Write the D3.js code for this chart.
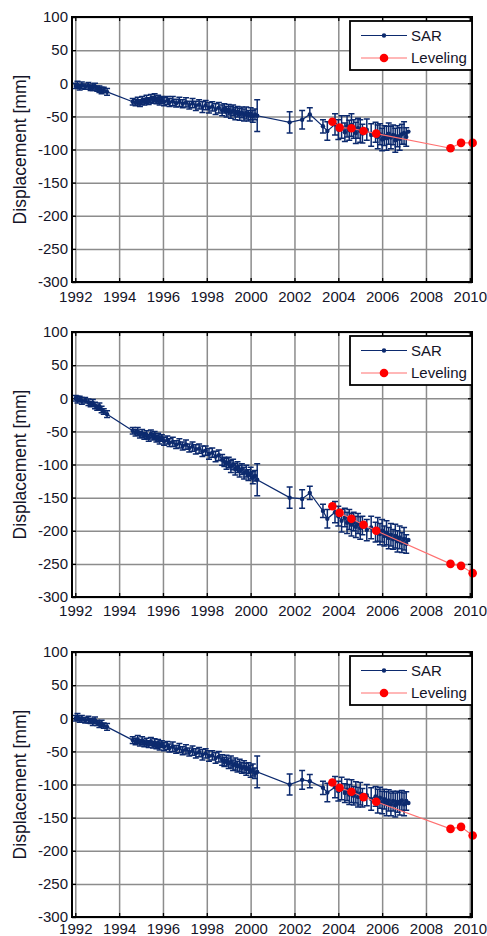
<!DOCTYPE html>
<html><head><meta charset="utf-8">
<script src="https://cdn.jsdelivr.net/npm/d3@7"></script>
<style>
html,body{margin:0;padding:0;background:#fff;}
text{font-family:"Liberation Sans",Arial,Helvetica,sans-serif;}
</style></head>
<body><svg id="chart" width="487" height="936"></svg>
<script>
// ---------- DATA ----------
const xTicks = [1992,1994,1996,1998,2000,2002,2004,2006,2008,2010];
const yTicks = [100,50,0,-50,-100,-150,-200,-250,-300];
const seriesNames = ["SAR","Leveling"];
const yLabel = "Displacement [mm]";

// SAR acquisition dates (decimal years)
const sarDates = [
 1992.02,1992.1,1992.2,1992.3,1992.45,1992.6,1992.7,1992.8,1992.9,1993.0,1993.1,1993.2,1993.3,1993.45,
 1994.62,1994.75,1994.85,1994.95,1995.05,1995.15,1995.25,1995.35,1995.45,1995.55,1995.62,1995.7,1995.78,1995.85,1995.95,
 1996.05,1996.2,1996.3,1996.45,1996.6,1996.75,1996.9,1997.05,1997.2,1997.35,1997.5,1997.65,1997.8,1997.95,
 1998.1,1998.25,1998.4,1998.55,1998.7,1998.8,1998.9,1999.0,1999.1,1999.2,1999.3,1999.4,1999.5,1999.6,1999.7,1999.8,1999.9,
 2000.0,2000.1,2000.2,2000.3,
 2001.78,2002.35,2002.7,2003.3,2003.5,
 2003.85,2004.0,2004.15,2004.3,2004.4,2004.5,2004.6,2004.7,2004.8,2004.9,2005.0,2005.1,2005.3,2005.5,2005.7,2005.8,2005.9,
 2006.0,2006.1,2006.2,2006.3,2006.4,2006.5,2006.6,2006.7,2006.8,2006.9,2007.0,2007.1,2007.2
];
// SAR error (half-length of bar, mm)
const sarErr = [
 4,5,4,5,4,5,4,5,5,4,5,5,4,5,
 5,5,6,5,6,5,6,5,6,5,6,5,6,6,5,
 6,6,6,7,6,7,6,7,6,7,7,7,8,7,
 8,7,8,8,8,7,8,8,9,8,9,8,9,8,9,9,
 8,9,9,8,
 24,16,14,10,10,
 14,16,15,17,14,16,15,17,14,16,15,17,14,16,17,15,18,
 16,17,15,18,16,17,15,18,16,17,15,17,14
];
// SAR displacement, panel 1
const sar1 = [
 -4,-2,-6,-3,-5,-4,-7,-6,-5,-8,-9,-11,-10,-13,
 -28,-29,-27,-30,-26,-28,-24,-27,-23,-25,-22,-26,-24,-27,-25,
 -28,-26,-29,-27,-30,-28,-31,-29,-33,-30,-34,-32,-36,-33,
 -37,-35,-39,-37,-41,-38,-43,-40,-44,-41,-46,-43,-47,-44,-48,-45,-49,
 -46,-50,-47,-49,
 -59,-55,-47,-65,-72,
 -62,-70,-66,-74,-65,-71,-63,-69,-75,-68,-72,-76,-70,-78,-74,-81,-77,
 -85,-79,-83,-76,-82,-78,-86,-80,-84,-77,-75,-81,-73
];
// SAR displacement, panel 2
const sar2 = [
 0,-2,-1,-4,-3,-6,-9,-7,-11,-14,-12,-17,-20,-24,
 -49,-52,-50,-55,-53,-57,-55,-60,-54,-58,-56,-61,-59,-63,-60,
 -65,-63,-67,-66,-70,-68,-72,-70,-75,-73,-77,-76,-80,-79,
 -84,-82,-88,-86,-93,-96,-99,-97,-103,-100,-107,-104,-110,-107,-113,-110,-116,
 -113,-120,-117,-123,
 -150,-152,-143,-170,-182,
 -172,-178,-185,-180,-188,-183,-191,-186,-194,-189,-196,-192,-199,-195,-202,-198,-205,
 -200,-208,-203,-211,-206,-213,-208,-216,-210,-218,-212,-220,-214
];
// SAR displacement, panel 3
const sar3 = [
 0,2,-2,-1,-3,-2,-4,-6,-3,-7,-9,-8,-11,-13,
 -33,-35,-32,-37,-34,-38,-36,-39,-35,-40,-37,-41,-38,-42,-39,
 -43,-41,-45,-43,-47,-45,-49,-47,-51,-49,-53,-51,-55,-53,
 -57,-56,-60,-58,-63,-66,-64,-68,-66,-71,-69,-73,-71,-75,-73,-77,-75,
 -80,-78,-83,-81,
 -100,-93,-95,-105,-112,
 -104,-110,-106,-113,-108,-115,-110,-117,-112,-119,-114,-120,-116,-122,-118,-125,-120,
 -127,-122,-129,-124,-130,-125,-131,-126,-129,-124,-130,-125,-128
];
// Leveling
const levDates = [2003.73,2004.06,2004.6,2005.15,2005.73,2009.12,2009.6,2010.13];
const lev1 = [-58,-67,-68,-72,-76,-98,-90,-90];
const lev2 = [-163,-173,-182,-191,-200,-250,-253,-264];
const lev3 = [-97,-105,-111,-119,-126,-167,-164,-177];

// ---------- DRAW ----------
const svg = d3.select("#chart");
const SAR_COLOR = "#0c2a6e", LEV_COLOR = "#ff0000", LEV_LINE = "#ff7070";
const TXT = "#141428";
const left = 72, right = 472, ph = 265;
const tops = [17, 332, 652];
const labOff = [14.5, 14, 11.5];
const panels = [[sar1, lev1],[sar2, lev2],[sar3, lev3]];
const fmt = d => String(d);

const x = d3.scaleLinear().domain([1991.85, 2010.1]).range([left, right]);

panels.forEach(([sar, lev], i) => {
  const top = tops[i];
  const y = d3.scaleLinear().domain([-300, 100]).range([top + ph, top]);
  const g = svg.append("g");

  // grid
  g.append("g").attr("transform", `translate(0,${top+ph})`)
    .call(d3.axisBottom(x).tickValues(xTicks).tickSize(-ph).tickFormat(""))
    .call(a => { a.select(".domain").remove(); a.selectAll("line").attr("stroke","#8c8c8c").attr("stroke-width",1.5); });
  g.append("g").attr("transform", `translate(${left},0)`)
    .call(d3.axisLeft(y).tickValues(yTicks).tickSize(-(right-left)).tickFormat(""))
    .call(a => { a.select(".domain").remove(); a.selectAll("line").attr("stroke","#8c8c8c").attr("stroke-width",1.5); });

  // inward ticks on all sides
  const tk = 4;
  const tickStyle = a => { a.select(".domain").remove(); a.selectAll("line").attr("stroke","#000").attr("stroke-width",1.3); };
  g.append("g").attr("transform", `translate(0,${top+ph})`)
    .call(d3.axisBottom(x).tickValues(xTicks).tickSize(-tk).tickFormat("")).call(tickStyle);
  g.append("g").attr("transform", `translate(0,${top})`)
    .call(d3.axisTop(x).tickValues(xTicks).tickSize(-tk).tickFormat("")).call(tickStyle);
  g.append("g").attr("transform", `translate(${left},0)`)
    .call(d3.axisLeft(y).tickValues(yTicks).tickSize(-tk).tickFormat("")).call(tickStyle);
  g.append("g").attr("transform", `translate(${right},0)`)
    .call(d3.axisRight(y).tickValues(yTicks).tickSize(-tk).tickFormat("")).call(tickStyle);

  // x tick labels
  g.append("g").attr("transform", `translate(0,${top+ph})`)
    .call(d3.axisBottom(x).tickValues(xTicks).tickSize(0).tickPadding(0).tickFormat(fmt))
    .call(a => { a.select(".domain").remove(); a.selectAll("text").attr("font-size",15).attr("fill",TXT)
      .attr("font-family","Liberation Sans, Arial, sans-serif")
      .attr("y", labOff[i]).attr("dy","0.35em"); });
  // y tick labels
  g.append("g").attr("transform", `translate(${left-4},0)`)
    .call(d3.axisLeft(y).tickValues(yTicks).tickSize(0).tickPadding(0).tickFormat(fmt))
    .call(a => { a.select(".domain").remove(); a.selectAll("text").attr("font-size",15).attr("fill",TXT)
      .attr("font-family","Liberation Sans, Arial, sans-serif"); });

  // y label
  g.append("text")
    .attr("transform", `translate(20,${top+ph/2}) rotate(-90)`)
    .attr("text-anchor","middle").attr("dy","0.35em").attr("font-size",17.5).attr("fill",TXT)
    .text(yLabel);

  // SAR series
  const sd = sarDates.map((t, k) => ({t, v: sar[k], e: sarErr[k]}));
  g.append("path").datum(sd)
    .attr("fill","none").attr("stroke",SAR_COLOR).attr("stroke-width",1.2)
    .attr("d", d3.line().x(d => x(d.t)).y(d => y(d.v)));
  const eb = g.append("g").attr("stroke",SAR_COLOR).attr("stroke-width",1.5).attr("fill","none");
  eb.selectAll("path").data(sd).join("path")
    .attr("d", d => {
      const cx = x(d.t), y1 = y(d.v + d.e), y2 = y(d.v - d.e), c = 3;
      return `M${cx},${y1}V${y2}M${cx-c},${y1}H${cx+c}M${cx-c},${y2}H${cx+c}`;
    });
  g.append("g").selectAll("circle").data(sd).join("circle")
    .attr("cx", d => x(d.t)).attr("cy", d => y(d.v)).attr("r", 2.2).attr("fill", SAR_COLOR);

  // Leveling series
  const ld = levDates.map((t, k) => ({t, v: lev[k]}));
  g.append("path").datum(ld)
    .attr("fill","none").attr("stroke",LEV_LINE).attr("stroke-width",1.1)
    .attr("d", d3.line().x(d => x(d.t)).y(d => y(d.v)));
  g.append("g").selectAll("circle").data(ld).join("circle")
    .attr("cx", d => x(d.t)).attr("cy", d => y(d.v)).attr("r", 4.3).attr("fill", LEV_COLOR);

  // frame
  g.append("rect").attr("x",left).attr("y",top).attr("width",right-left).attr("height",ph)
    .attr("fill","none").attr("stroke","#000").attr("stroke-width",2);

  // legend
  const lt = top + 4, lx = 350;
  const lg = g.append("g");
  lg.append("rect").attr("x",lx).attr("y",lt).attr("width",right-lx).attr("height",49)
    .attr("fill","#fff").attr("stroke","#000").attr("stroke-width",1.8);
  const rows = [
    {name: seriesNames[0], color: SAR_COLOR, line: SAR_COLOR, r: 2.2, dy: 14.5},
    {name: seriesNames[1], color: LEV_COLOR, line: LEV_LINE, r: 4.3, dy: 37}
  ];
  rows.forEach(r => {
    const yy = lt + r.dy;
    lg.append("line").attr("x1",lx+11).attr("x2",lx+57).attr("y1",yy).attr("y2",yy)
      .attr("stroke",r.line).attr("stroke-width",1.2);
    lg.append("circle").attr("cx",lx+34).attr("cy",yy).attr("r",r.r).attr("fill",r.color);
    lg.append("text").attr("x",lx+61).attr("y",yy).attr("dy","0.36em")
      .attr("font-size",15).attr("fill",TXT).text(r.name);
  });
});
</script>
</body></html>
